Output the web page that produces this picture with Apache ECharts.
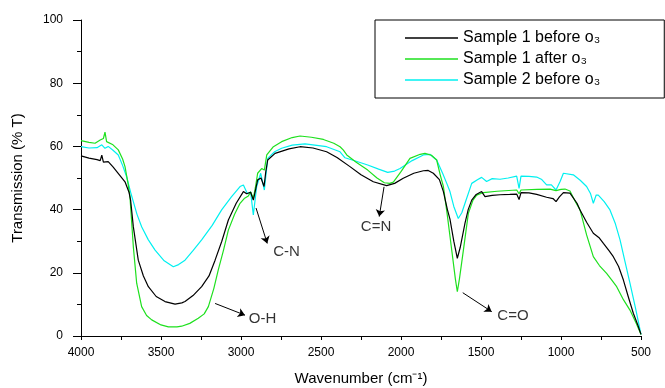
<!DOCTYPE html>
<html>
<head>
<meta charset="utf-8">
<script src="https://cdn.jsdelivr.net/npm/echarts@6/dist/echarts.min.js"></script>
<style>
  html, body { margin: 0; padding: 0; background: #fff; }
  #chart { width: 665px; height: 388px; }
</style>
</head>
<body>
<div id="chart"></div>
<script>
// 曲线数据：波数 / 透过率
const blackWave = [4000, 3950, 3900, 3880, 3870, 3860, 3830, 3800, 3760, 3725, 3700, 3690, 3673, 3642, 3610, 3579, 3530, 3475, 3412, 3370, 3350, 3300, 3246, 3200, 3162, 3120, 3079, 3030, 2985, 2965, 2954, 2940, 2923, 2910, 2896, 2875, 2856, 2845, 2833, 2787, 2700, 2631, 2550, 2465, 2400, 2319, 2250, 2173, 2090, 2040, 1986, 1920, 1860, 1830, 1798, 1760, 1735, 1710, 1694, 1670, 1648, 1630, 1600, 1580, 1558, 1530, 1496, 1475, 1430, 1381, 1320, 1277, 1262, 1250, 1200, 1152, 1090, 1050, 1031, 1010, 985, 944, 900, 881, 840, 798, 760, 735, 700, 673, 640, 610, 580, 548, 520, 500];
const blackT = [57, 56.3, 55.8, 55.5, 57.2, 55, 55.2, 53.5, 51, 48.8, 45.5, 43, 34.6, 24, 19, 15.6, 12.5, 10.9, 10.1, 10.5, 10.9, 12.8, 15.6, 19, 24, 30, 36.7, 42, 45.7, 45, 44.6, 45.5, 43, 46, 49.4, 50, 47.3, 52, 55.7, 57.8, 59.2, 59.9, 59.5, 58.3, 56.5, 53.6, 51, 48.8, 47.6, 48.3, 49.9, 51.5, 52.3, 52.4, 51.5, 49.5, 45.7, 40, 37, 30, 24.6, 28, 35.7, 40, 43, 44.8, 45.7, 44.1, 44.5, 44.7, 44.8, 44.9, 43.2, 45.4, 45.3, 44.8, 43.9, 43.5, 42.5, 44, 45.4, 45.2, 42, 39.9, 36, 32.5, 31, 29.3, 27, 25.1, 22, 17.7, 12.5, 7.2, 3.5, 0.5];

const greenWave = [4000, 3950, 3912, 3880, 3860, 3850, 3840, 3800, 3767, 3740, 3725, 3705, 3694, 3673, 3652, 3621, 3590, 3558, 3500, 3454, 3400, 3371, 3320, 3267, 3230, 3204, 3170, 3142, 3110, 3079, 3040, 3006, 2980, 2954, 2940, 2923, 2910, 2896, 2871, 2854, 2839, 2800, 2746, 2680, 2631, 2560, 2485, 2420, 2381, 2360, 2339, 2280, 2208, 2150, 2104, 2070, 2048, 2000, 1944, 1880, 1850, 1810, 1777, 1755, 1735, 1710, 1683, 1660, 1648, 1635, 1610, 1579, 1550, 1527, 1485, 1400, 1277, 1262, 1250, 1150, 1069, 1031, 1000, 975, 944, 910, 881, 840, 798, 760, 715, 680, 652, 610, 569, 530, 500];
const greenT = [61.8, 61.3, 61, 62, 62.5, 64.5, 61.5, 60.5, 58.9, 56, 53.6, 48, 44, 28.3, 16.7, 9.3, 6.5, 5.1, 3.5, 2.9, 2.9, 3.1, 4, 5.6, 7, 9.3, 15, 20.9, 27, 33.5, 38.5, 42, 43.5, 44.3, 45.6, 43.5, 47, 51.5, 53, 52.5, 57.3, 59.8, 61.5, 62.8, 63.3, 62.9, 62.2, 61, 59.9, 58.8, 57.3, 55, 52.5, 50, 48.5, 48.3, 48.7, 52, 56.2, 57.5, 57.8, 57.2, 55.7, 51, 47.3, 38, 27.2, 18, 14, 18, 27.2, 38.8, 43, 44.6, 45.4, 45.8, 46.2, 45, 46.2, 46.4, 46.5, 46, 46.4, 46.5, 45.9, 42.5, 39.9, 32, 25.1, 22.3, 19.8, 17.5, 15.6, 11.5, 8.2, 4, 0.5];

const cyanWave = [4000, 3950, 3900, 3870, 3850, 3830, 3800, 3767, 3740, 3715, 3690, 3673, 3650, 3621, 3580, 3537, 3480, 3423, 3390, 3350, 3300, 3246, 3180, 3121, 3060, 3006, 2985, 2960, 2940, 2923, 2902, 2877, 2854, 2833, 2790, 2746, 2680, 2600, 2465, 2381, 2350, 2280, 2208, 2140, 2083, 2040, 2006, 1930, 1860, 1820, 1777, 1740, 1714, 1694, 1670, 1642, 1620, 1600, 1558, 1520, 1496, 1465, 1430, 1381, 1330, 1277, 1262, 1250, 1200, 1152, 1120, 1090, 1060, 1031, 1005, 985, 923, 880, 840, 815, 798, 780, 767, 730, 694, 660, 631, 600, 569, 535, 500];
const cyanT = [59.9, 59.5, 59.6, 60.5, 59.4, 60, 58.8, 57.3, 54, 50.4, 45.5, 42.5, 38.5, 34.6, 30.5, 27.2, 23.8, 21.9, 22.6, 24, 27, 30.4, 35, 39.9, 44, 47.3, 47.8, 45, 45.6, 38.3, 47.3, 51.5, 46.2, 56.2, 58.3, 59.4, 60.4, 60.8, 59.9, 58.3, 56.4, 55.3, 54.1, 52.8, 51.8, 52.2, 53, 55.5, 57.3, 57.5, 55.7, 51.5, 48.3, 45.7, 41, 37.2, 39, 42, 48.3, 49.5, 50.2, 48.9, 49.8, 49.6, 50, 50.6, 46.7, 50.6, 50.5, 50.3, 49.5, 47.8, 47.8, 46.2, 49, 51.5, 51, 49.3, 47.3, 45, 42, 44.6, 44.6, 42.5, 39.9, 35.5, 30.4, 23.5, 16.7, 9, 0.5];

const seriesNames = ['Sample 1 before o\u2083', 'Sample 1 after o\u2083', 'Sample 2 before o\u2083'];

// 峰位标注：箭头起点、终点、文字位置
const noteLabels = ['C-N', 'O-H', 'C=N', 'C=O'];
const arrowFrom = [[2906, 40.5], [3162, 10.3], [2106, 47.2], [1614, 13.7]];
const arrowTo = [[2836, 29.3], [2975, 6.6], [2136, 37.8], [1433, 7.7]];
const labelPos = [[2715, 26.6], [2865, 5.4], [2156, 34.6], [1300, 6.3]];

const xTicks = [500, 4000, 500];
const yTicks = [0, 100, 20];

function pair(xs, ys) {
    return xs.map((x, i) => [x, ys[i]]);
}

const chart = echarts.init(document.getElementById('chart'), null, { renderer: 'canvas' });
const font = 'Liberation Sans, Arial, sans-serif';

chart.setOption({
    animation: false,
    backgroundColor: '#fff',
    // v6 默认会为坐标轴文字收缩 grid，这里关掉
    grid: { left: 81, right: 24, top: 20, bottom: 52, containLabel: false, outerBoundsMode: 'none' },
    legend: {
        orient: 'vertical',
        left: 375,
        top: 20,
        padding: [9, 64, 9, 30],
        icon: 'rect',
        itemWidth: 53,
        itemHeight: 1.5,
        itemGap: 3,
        borderColor: '#000',
        borderWidth: 1,
        data: seriesNames,
        textStyle: { fontFamily: font, fontSize: 16, color: '#000', lineHeight: 18 }
    },
    xAxis: {
        type: 'value',
        inverse: true,
        min: xTicks[0],
        max: xTicks[1],
        interval: xTicks[2],
        name: 'Wavenumber (cm\u207B\u00B9)',
        nameLocation: 'middle',
        nameGap: 35,
        nameTextStyle: { fontFamily: font, fontSize: 15, color: '#000' },
        axisLine: { lineStyle: { color: '#000', width: 1 } },
        axisTick: { length: 4, lineStyle: { color: '#000' } },
        minorTick: { show: true, splitNumber: 2, length: 4, lineStyle: { color: '#000' } },
        axisLabel: { fontFamily: font, fontSize: 12, color: '#000', margin: 11, formatter: (v) => String(v) },
        splitLine: { show: false }
    },
    yAxis: {
        type: 'value',
        min: yTicks[0],
        max: yTicks[1],
        interval: yTicks[2],
        name: 'Transmission (% T)',
        nameLocation: 'middle',
        nameGap: 56,
        nameTextStyle: { fontFamily: font, fontSize: 15, color: '#000' },
        axisLine: { show: true, lineStyle: { color: '#000', width: 1 } },
        axisTick: { show: true, length: 8, lineStyle: { color: '#000' } },
        minorTick: { show: true, splitNumber: 2, length: 4, lineStyle: { color: '#000' } },
        axisLabel: { fontFamily: font, fontSize: 12, color: '#000', margin: 18 },
        splitLine: { show: false }
    },
    series: [
        {
            name: seriesNames[0],
            type: 'line',
            symbol: 'none',
            lineStyle: { color: '#000', width: 1.2 },
            itemStyle: { color: '#000' },
            data: pair(blackWave, blackT),
            z: 3
        },
        {
            name: seriesNames[1],
            type: 'line',
            symbol: 'none',
            lineStyle: { color: '#1ee01e', width: 1.2 },
            itemStyle: { color: '#1ee01e' },
            data: pair(greenWave, greenT),
            z: 2
        },
        {
            name: seriesNames[2],
            type: 'line',
            symbol: 'none',
            lineStyle: { color: '#00f0f0', width: 1.2 },
            itemStyle: { color: '#00f0f0' },
            data: pair(cyanWave, cyanT),
            z: 1
        },
        {
            // 箭头
            type: 'lines',
            coordinateSystem: 'cartesian2d',
            symbol: ['none', 'arrow'],
            symbolSize: 7,
            lineStyle: { color: '#000', width: 1, opacity: 1 },
            data: arrowFrom.map((p, i) => ({ coords: [p, arrowTo[i]] })),
            z: 5
        },
        {
            // 标注文字
            type: 'scatter',
            symbolSize: 0,
            label: {
                show: true,
                position: 'inside',
                fontFamily: font,
                fontSize: 15,
                color: '#000',
                formatter: (p) => noteLabels[p.dataIndex]
            },
            data: labelPos,
            z: 5
        }
    ]
});
</script>
</body>
</html>
